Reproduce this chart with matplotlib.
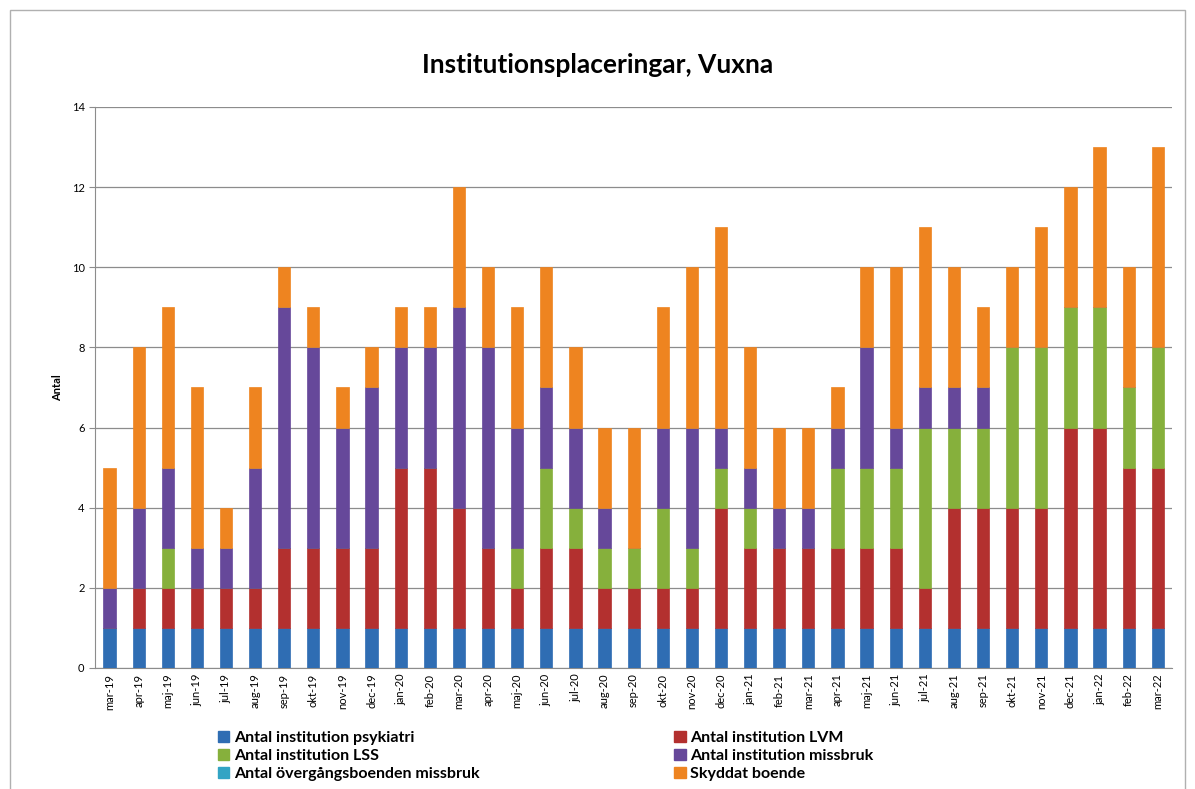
import numpy as np
import matplotlib
matplotlib.use('Agg')
import matplotlib.pyplot as plt
from matplotlib.patches import Rectangle, Patch

plt.rcParams['font.family'] = ['Lato', 'DejaVu Sans']

months = ['mar-19', 'apr-19', 'maj-19', 'jun-19', 'jul-19', 'aug-19', 'sep-19', 'okt-19',
          'nov-19', 'dec-19', 'jan-20', 'feb-20', 'mar-20', 'apr-20', 'maj-20', 'jun-20',
          'jul-20', 'aug-20', 'sep-20', 'okt-20', 'nov-20', 'dec-20', 'jan-21', 'feb-21',
          'mar-21', 'apr-21', 'maj-21', 'jun-21', 'jul-21', 'aug-21', 'sep-21', 'okt-21',
          'nov-21', 'dec-21', 'jan-22', 'feb-22', 'mar-22']

psykiatri = [1] * 37
lvm = [0, 1, 1, 1, 1, 1, 2, 2, 2, 2, 4, 4, 3, 2, 1, 2, 2, 1, 1, 1, 1, 3, 2, 2, 2, 2, 2, 2,
       1, 3, 3, 3, 3, 5, 5, 4, 4]
lss = [0, 0, 1, 0, 0, 0, 0, 0, 0, 0, 0, 0, 0, 0, 1, 2, 1, 1, 1, 2, 1, 1, 1, 0, 0, 2, 2, 2,
       4, 2, 2, 4, 4, 3, 3, 2, 3]
missbruk = [1, 2, 2, 1, 1, 3, 6, 5, 3, 4, 3, 3, 5, 5, 3, 2, 2, 1, 0, 2, 3, 1, 1, 1, 1, 1, 3, 1,
            1, 1, 1, 0, 0, 0, 0, 0, 0]
overgang = [0] * 37
skyddat = [3, 4, 4, 4, 1, 2, 1, 1, 1, 1, 1, 1, 3, 2, 3, 3, 2, 2, 3, 3, 4, 5, 3, 2, 2, 1, 2, 4,
           4, 3, 2, 2, 3, 3, 4, 3, 5]

series = [
    ('Antal institution psykiatri', psykiatri, '#2f6db3'),
    ('Antal institution LVM', lvm, '#b3302f'),
    ('Antal institution LSS', lss, '#86b03c'),
    ('Antal institution missbruk', missbruk, '#66489a'),
    ('Antal övergångsboenden missbruk', overgang, '#32a4c4'),
    ('Skyddat boende', skyddat, '#ee8420'),
]

fig = plt.figure(figsize=(11.95, 7.89), dpi=100)
ax = fig.add_axes([0.0795, 0.1534, 0.9015, 0.711])

x = np.arange(len(months))
bottom = np.zeros(len(months))
for name, vals, col in series:
    vals = np.array(vals, dtype=float)
    ax.bar(x, vals, 0.42, bottom=bottom, color=col, edgecolor=col, linewidth=0.5, zorder=3)
    bottom += vals

ax.set_xlim(-0.5, len(months) - 0.5)
ax.set_ylim(0, 14)
ax.set_yticks(range(0, 15, 2))
ax.yaxis.grid(True, color='#8c8c8c', linewidth=0.9, zorder=0)
ax.set_xticks(x)
ax.set_xticklabels(months, rotation=90, fontsize=8)
ax.tick_params(axis='y', labelsize=8, length=4, color='#8c8c8c')
ax.tick_params(axis='x', length=0, pad=4)
for s in ['top', 'right']:
    ax.spines[s].set_visible(False)
for s in ['left', 'bottom']:
    ax.spines[s].set_color('#8c8c8c')
ax.set_ylabel('Antal', fontsize=8, fontweight='bold', labelpad=6)

fig.text(0.5, 0.917, 'Institutionsplaceringar, Vuxna', ha='center', va='center',
         fontsize=19, fontweight='bold')

# legend, row-major order like the original
order = [0, 2, 4, 1, 3, 5]
handles = [Patch(facecolor=series[i][2], edgecolor=series[i][2]) for i in order]
labels = [series[i][0] for i in order]
fig.legend(handles, labels, ncol=2, loc='upper left', bbox_to_anchor=(0.1824, 0.074),
           frameon=False, prop={'weight': 'bold', 'size': 11.5},
           handlelength=0.7, handleheight=0.7, handletextpad=0.3,
           labelspacing=0.26, columnspacing=12.2, borderpad=0, borderaxespad=0)

# chart frame
fig.patches.append(Rectangle((10 / 1195, -0.01), 1175 / 1195, 1 - 10 / 789 + 0.01,
                             transform=fig.transFigure, fill=False,
                             edgecolor='#b0b0b0', linewidth=1))

fig.savefig('out.png', dpi=100)
